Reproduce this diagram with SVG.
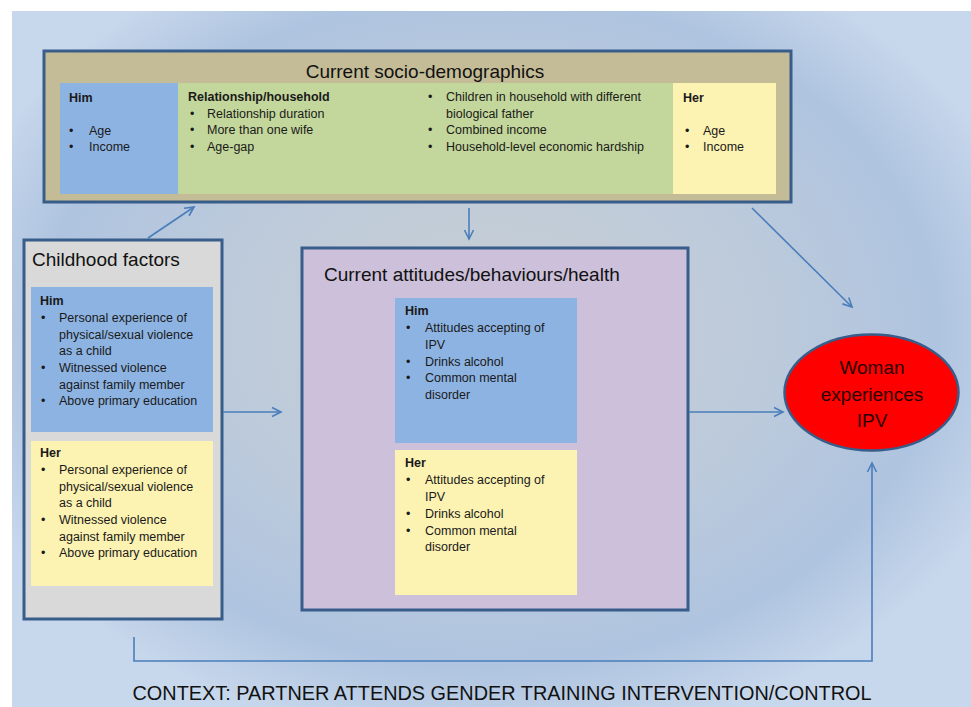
<svg xmlns="http://www.w3.org/2000/svg" width="971" height="707" viewBox="0 0 971 707">
<defs>
<radialGradient id="bg" cx="490" cy="330" r="560" gradientUnits="userSpaceOnUse" gradientTransform="translate(490 330) scale(1 0.75) translate(-490 -330)">
<stop offset="0" stop-color="#c9cfd3"/>
<stop offset="0.5" stop-color="#bccadb"/>
<stop offset="0.8" stop-color="#afc4e0"/>
<stop offset="1" stop-color="#c8d8ec"/>
</radialGradient>
<marker id="arr" markerWidth="12" markerHeight="12" refX="10" refY="6" orient="auto" markerUnits="userSpaceOnUse">
<path d="M1,1.5 L10,6 L1,10.5" fill="none" stroke="#4a7ebb" stroke-width="1.6"/>
</marker>
<style>
.box{stroke:#385d8a;stroke-width:3}
.title{font-family:"Liberation Sans",Arial,sans-serif;font-size:19px;fill:#111}
.t{font-family:"Liberation Sans",Arial,sans-serif;font-size:12.5px;fill:#1a1a1a}
.b{font-weight:bold}
.blue{fill:#8db3e2}
.green{fill:#c3d69b}
.yellow{fill:#fcf2b2}
.con{fill:none;stroke:#4a7ebb;stroke-width:1.6}
</style>
</defs>
<rect x="0" y="0" width="971" height="707" fill="#ffffff"/>
<rect x="12" y="11" width="959" height="696" fill="url(#bg)"/>

<g id="socio">
<rect class="box" x="44" y="51" width="747" height="151" fill="#c4bc96"/>
<text class="title" x="425" y="78" text-anchor="middle">Current socio-demographics</text>
<rect class="blue" x="60" y="83" width="118" height="111"/>
<rect class="green" x="178" y="83" width="495" height="111"/>
<rect class="yellow" x="673" y="83" width="103" height="111"/>
<text class="t b" x="69" y="102">Him</text>
<text class="t" x="69" y="135">•</text><text class="t" x="89" y="135">Age</text>
<text class="t" x="69" y="151">•</text><text class="t" x="89" y="151">Income</text>
<text class="t b" x="188" y="101">Relationship/household</text>
<text class="t" x="190" y="118">•</text><text class="t" x="207" y="118">Relationship duration</text>
<text class="t" x="190" y="134">•</text><text class="t" x="207" y="134">More than one wife</text>
<text class="t" x="190" y="151">•</text><text class="t" x="207" y="151">Age-gap</text>
<text class="t" x="428" y="101">•</text><text class="t" x="446" y="101">Children in household with different</text>
<text class="t" x="446" y="118">biological father</text>
<text class="t" x="428" y="134">•</text><text class="t" x="446" y="134">Combined income</text>
<text class="t" x="428" y="151">•</text><text class="t" x="446" y="151">Household-level economic hardship</text>
<text class="t b" x="683" y="102">Her</text>
<text class="t" x="685" y="135">•</text><text class="t" x="703" y="135">Age</text>
<text class="t" x="685" y="151">•</text><text class="t" x="703" y="151">Income</text>
</g>

<g id="childhood">
<rect class="box" x="24" y="240" width="198" height="379" fill="#d9d9d9"/>
<text class="title" x="32" y="266">Childhood factors</text>
<rect class="blue" x="31" y="287" width="182" height="145"/>
<text class="t b" x="40" y="305">Him</text>
<text class="t" x="41" y="322">•</text><text class="t" x="59" y="322">Personal experience of</text>
<text class="t" x="59" y="339">physical/sexual violence</text>
<text class="t" x="59" y="355">as a child</text>
<text class="t" x="41" y="372">•</text><text class="t" x="59" y="372">Witnessed violence</text>
<text class="t" x="59" y="389">against family member</text>
<text class="t" x="41" y="405">•</text><text class="t" x="59" y="405">Above primary education</text>
<rect class="yellow" x="31" y="441" width="182" height="145"/>
<text class="t b" x="40" y="457">Her</text>
<text class="t" x="41" y="474">•</text><text class="t" x="59" y="474">Personal experience of</text>
<text class="t" x="59" y="491">physical/sexual violence</text>
<text class="t" x="59" y="507">as a child</text>
<text class="t" x="41" y="524">•</text><text class="t" x="59" y="524">Witnessed violence</text>
<text class="t" x="59" y="541">against family member</text>
<text class="t" x="41" y="557">•</text><text class="t" x="59" y="557">Above primary education</text>
</g>

<g id="attitudes">
<rect class="box" x="302" y="248" width="386" height="362" fill="#ccc0da"/>
<text class="title" x="324" y="281">Current attitudes/behaviours/health</text>
<rect class="blue" x="395" y="298" width="182" height="145"/>
<text class="t b" x="405" y="315">Him</text>
<text class="t" x="406" y="332">•</text><text class="t" x="425" y="332">Attitudes accepting of</text>
<text class="t" x="425" y="349">IPV</text>
<text class="t" x="406" y="366">•</text><text class="t" x="425" y="366">Drinks alcohol</text>
<text class="t" x="406" y="382">•</text><text class="t" x="425" y="382">Common mental</text>
<text class="t" x="425" y="399">disorder</text>
<rect class="yellow" x="395" y="450" width="182" height="145"/>
<text class="t b" x="405" y="467">Her</text>
<text class="t" x="406" y="484">•</text><text class="t" x="425" y="484">Attitudes accepting of</text>
<text class="t" x="425" y="501">IPV</text>
<text class="t" x="406" y="518">•</text><text class="t" x="425" y="518">Drinks alcohol</text>
<text class="t" x="406" y="535">•</text><text class="t" x="425" y="535">Common mental</text>
<text class="t" x="425" y="551">disorder</text>
</g>

<g id="outcome">
<ellipse cx="871.5" cy="392.5" rx="87" ry="58" fill="#ff0000" stroke="#385d8a" stroke-width="2.5"/>
<g font-family="'Liberation Sans',Arial,sans-serif" font-size="19" fill="#2a0000" text-anchor="middle">
<text x="872" y="374">Woman</text>
<text x="872" y="401">experiences</text>
<text x="872" y="427">IPV</text>
</g>
</g>

<g id="connectors">
<line class="con" x1="148" y1="238" x2="194" y2="207" marker-end="url(#arr)"/>
<line class="con" x1="469" y1="208" x2="469" y2="239" marker-end="url(#arr)"/>
<line class="con" x1="752" y1="208" x2="852" y2="307" marker-end="url(#arr)"/>
<line class="con" x1="223" y1="412" x2="281" y2="412" marker-end="url(#arr)"/>
<line class="con" x1="689" y1="412" x2="783" y2="412" marker-end="url(#arr)"/>
<polyline class="con" points="134,637 134,661 872,661 872,463" marker-end="url(#arr)"/>
</g>

<text id="context" x="502" y="700" text-anchor="middle" font-family="'Liberation Sans',Arial,sans-serif" font-size="20" fill="#111" textLength="739" lengthAdjust="spacingAndGlyphs">CONTEXT: PARTNER ATTENDS GENDER TRAINING INTERVENTION/CONTROL</text>
</svg>
